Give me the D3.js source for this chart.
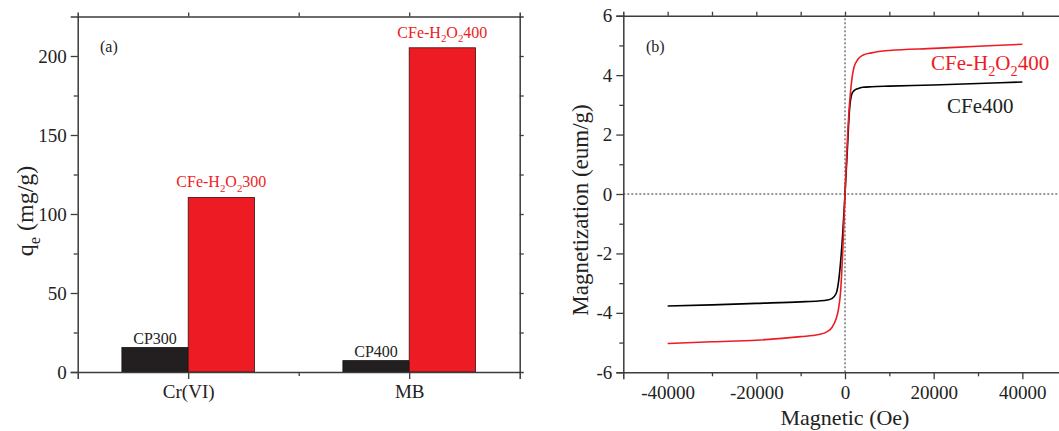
<!DOCTYPE html>
<html><head><meta charset="utf-8">
<script src="https://cdn.jsdelivr.net/npm/d3@7"></script>
<style>
body{margin:0;background:#fff;}
svg text{font-family:"Liberation Serif","Times New Roman",serif;}
</style></head>
<body><svg id="c" width="1059" height="431"></svg>
<script>
// ---- Panel (a) data ----
const categories = ["Cr(VI)", "MB"];
const cpValues = [15.5, 7.2];
const cpLabels = ["CP300", "CP400"];
const cfeValues = [110.5, 205.2];
const cfeLabelNums = ["300", "400"];
const yTicksA = [0, 50, 100, 150, 200];

// ---- Panel (b) data ----
const magField = [-40000,-30000,-20000,-10000,-6000,-4000,-3000,-2000,-1500,-1000,-500,0,500,1000,1500,2000,3000,4000,6000,10000,20000,30000,40000];
const cfe400 = [-3.77,-3.73,-3.68,-3.63,-3.60,-3.57,-3.52,-3.35,-3.0,-2.3,-1.3,0,1.4,2.8,3.35,3.47,3.55,3.59,3.61,3.63,3.67,3.72,3.77];
const cfeH2O2400 = [-5.03,-4.97,-4.92,-4.80,-4.73,-4.63,-4.50,-4.2,-3.9,-3.3,-1.9,0,1.7,3.0,3.8,4.25,4.55,4.67,4.75,4.83,4.90,4.97,5.04];
const xTicksB = [-40000,-20000,0,20000,40000];
const yTicksB = [-6,-4,-2,0,2,4,6];

const RED = "#ED1C24", BLK = "#231F20", AX = "#3c3c3c";
const FONT = '"Liberation Serif", "Times New Roman", serif';
const svg = d3.select("#c");
const plain = d => String(d);

function styleAxis(g){
  g.attr("font-family", FONT).attr("font-size", 19);
  g.select(".domain").attr("stroke", AX).attr("stroke-width", 1.5);
  g.selectAll(".tick line").attr("stroke", AX).attr("stroke-width", 1.3);
  g.selectAll(".tick text").attr("fill", "#222").style("font-size", "19px").style("font-family", FONT);
}
function addSubText(sel, parts, size){
  parts.forEach(p => {
    const t = sel.append("tspan").text(p[0]);
    if (p[1]) { t.attr("dy", size*0.28).style("font-size", (size*0.68)+"px"); }
    else { t.attr("dy", p[2] ? -size*0.28 : 0); }
  });
}

// ================= Panel (a) =================
const xA = d3.scaleLinear().domain([0.5, 2.5]).range([77.7, 519.7]);
const yA = d3.scaleLinear().domain([0, 225]).range([372, 16.5]);
const gA = svg.append("g");
const catPos = categories.map((c,i)=>i+1);
const barW = 0.3;

gA.selectAll("rect.cp").data(cpValues).join("rect")
  .attr("x", (d,i)=>xA(catPos[i]-barW)).attr("width", xA(barW)-xA(0))
  .attr("y", d=>yA(d)).attr("height", d=>yA(0)-yA(d))
  .attr("fill", BLK).attr("stroke", "#111").attr("stroke-width", 0.8);
gA.selectAll("rect.cfe").data(cfeValues).join("rect")
  .attr("x", (d,i)=>xA(catPos[i])).attr("width", xA(barW)-xA(0))
  .attr("y", d=>yA(d)).attr("height", d=>yA(0)-yA(d))
  .attr("fill", RED).attr("stroke", "#3a1010").attr("stroke-width", 0.8);

const axBA = gA.append("g").attr("transform", `translate(0,${yA(0)})`)
  .call(d3.axisBottom(xA).tickValues(catPos).tickFormat((d,i)=>categories[i]).tickSize(7).tickPadding(6));
styleAxis(axBA);
gA.append("g").attr("transform", `translate(0,${yA(0)})`)
  .call(d3.axisBottom(xA).tickValues([1.5]).tickFormat("").tickSize(4)).call(styleAxis).select(".domain").remove();
const axTA = gA.append("g").attr("transform", `translate(0,${yA(225)})`)
  .call(d3.axisTop(xA).tickValues([1,1.5,2]).tickFormat("").tickSize(4));
styleAxis(axTA);
const axLA = gA.append("g").attr("transform", `translate(${xA(0.5)},0)`)
  .call(d3.axisLeft(yA).tickValues(yTicksA).tickFormat(plain).tickSize(7).tickPadding(4));
styleAxis(axLA);
gA.append("g").attr("transform", `translate(${xA(0.5)},0)`)
  .call(d3.axisLeft(yA).tickValues([25,75,125,175]).tickFormat("").tickSize(4)).call(styleAxis).select(".domain").remove();
const axRA = gA.append("g").attr("transform", `translate(${xA(2.5)},0)`)
  .call(d3.axisRight(yA).tickValues([25,50,75,100,125,150,175,200]).tickFormat("").tickSize(4));
styleAxis(axRA);

gA.selectAll("text.cpl").data(cpValues).join("text")
  .attr("x", (d,i)=>xA(catPos[i]-barW/2)).attr("y", d=>yA(d)-4)
  .attr("text-anchor","middle").style("font-size","16px").attr("fill","#222")
  .text((d,i)=>cpLabels[i]);
cfeValues.forEach((v,i)=>{
  const t = gA.append("text").attr("x", xA(catPos[i]+barW/2)).attr("y", yA(v)-10)
    .attr("text-anchor","middle").style("font-size","16px").attr("fill", RED);
  addSubText(t, [["CFe-H"],["2",true],["O",false,true],["2",true],[cfeLabelNums[i],false,true]], 16);
});
gA.append("text").attr("x",100).attr("y",52).style("font-size","16px").attr("fill","#222").text("(a)");
const qt = gA.append("text").attr("transform","translate(33,211) rotate(-90)").attr("text-anchor","middle")
  .style("font-size","24px").attr("fill","#222");
addSubText(qt, [["q"],["e",true],[" (mg/g)",false,true]], 24);

// ================= Panel (b) =================
const xB = d3.scaleLinear().domain([-50000, 50000]).range([623.3, 1066.7]);
const yB = d3.scaleLinear().domain([-6, 6]).range([372.3, 15.7]);
const gB = svg.append("g");

gB.append("line").attr("x1", xB(-50000)).attr("x2", xB(50000)).attr("y1", yB(0)).attr("y2", yB(0))
  .attr("stroke","#333").attr("stroke-width",1).attr("stroke-dasharray","2,2");
gB.append("line").attr("x1", xB(0)).attr("x2", xB(0)).attr("y1", yB(-6)).attr("y2", yB(6))
  .attr("stroke","#333").attr("stroke-width",1).attr("stroke-dasharray","2,2");

const line = d3.line().x((d,i)=>xB(magField[i])).y(d=>yB(d)).curve(d3.curveMonotoneX);
gB.append("path").datum(cfe400).attr("d", line).attr("fill","none").attr("stroke", "#000").attr("stroke-width",1.6);
gB.append("path").datum(cfeH2O2400).attr("d", line).attr("fill","none").attr("stroke", RED).attr("stroke-width",1.6);

const axBB = gB.append("g").attr("transform", `translate(0,${yB(-6)})`)
  .call(d3.axisBottom(xB).tickValues(xTicksB).tickFormat(plain).tickSize(7).tickPadding(6));
styleAxis(axBB);
gB.append("g").attr("transform", `translate(0,${yB(-6)})`)
  .call(d3.axisBottom(xB).tickValues([-30000,-10000,10000,30000]).tickFormat("").tickSize(4)).call(styleAxis).select(".domain").remove();
const axTB = gB.append("g").attr("transform", `translate(0,${yB(6)})`)
  .call(d3.axisTop(xB).tickValues([-40000,-30000,-20000,-10000,0,10000,20000,30000,40000]).tickFormat("").tickSize(4));
styleAxis(axTB);
const axLB = gB.append("g").attr("transform", `translate(${xB(-50000)},0)`)
  .call(d3.axisLeft(yB).tickValues(yTicksB).tickFormat(plain).tickSize(7).tickPadding(4));
styleAxis(axLB);
gB.append("g").attr("transform", `translate(${xB(-50000)},0)`)
  .call(d3.axisLeft(yB).tickValues([-5,-3,-1,1,3,5]).tickFormat("").tickSize(4)).call(styleAxis).select(".domain").remove();

gB.append("text").attr("x",646).attr("y",52).style("font-size","16px").attr("fill","#222").text("(b)");
const lr = gB.append("text").attr("x", 931).attr("y", 70).style("font-size","21px").attr("fill", RED);
addSubText(lr, [["CFe-H"],["2",true],["O",false,true],["2",true],["400",false,true]], 21);
gB.append("text").attr("x", 947).attr("y", 113).style("font-size","21px").attr("fill","#222").text("CFe400");
gB.append("text").attr("transform","translate(588,210) rotate(-90)").attr("text-anchor","middle")
  .style("font-size","23px").attr("fill","#222").text("Magnetization (eum/g)");
gB.append("text").attr("x", xB(0)).attr("y", 425).attr("text-anchor","middle")
  .style("font-size","22px").attr("fill","#222").text("Magnetic (Oe)");
</script></body></html>
